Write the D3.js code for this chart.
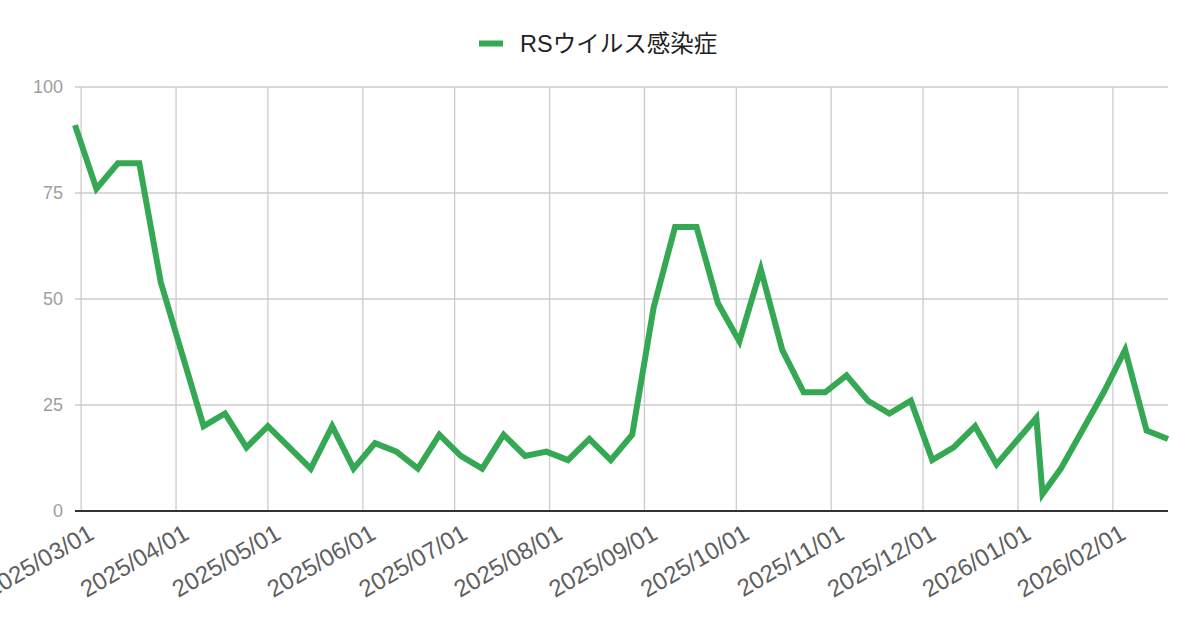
<!DOCTYPE html>
<html>
<head>
<meta charset="utf-8">
<script src="https://cdn.jsdelivr.net/npm/d3@7/dist/d3.min.js"></script>
<style>
  body { margin: 0; background: #ffffff; }
  svg { display: block; font-family: Arial, "Liberation Sans", "Noto Sans CJK JP", sans-serif; }
</style>
</head>
<body>
<svg id="chart" width="1200" height="626"></svg>
<script>
const series_name = "RSウイルス感染症";

// weekly report dates (the new year weeks are irregular)
const dates = [
  "2025/02/27", "2025/03/06", "2025/03/13", "2025/03/20", "2025/03/27",
  "2025/04/03", "2025/04/10", "2025/04/17", "2025/04/24", "2025/05/01",
  "2025/05/08", "2025/05/15", "2025/05/22", "2025/05/29", "2025/06/05",
  "2025/06/12", "2025/06/19", "2025/06/26", "2025/07/03", "2025/07/10",
  "2025/07/17", "2025/07/24", "2025/07/31", "2025/08/07", "2025/08/14",
  "2025/08/21", "2025/08/28", "2025/09/04", "2025/09/11", "2025/09/18",
  "2025/09/25", "2025/10/02", "2025/10/09", "2025/10/16", "2025/10/23",
  "2025/10/30", "2025/11/06", "2025/11/13", "2025/11/20", "2025/11/27",
  "2025/12/04", "2025/12/11", "2025/12/18", "2025/12/25", "2026/01/07",
  "2026/01/09", "2026/01/15", "2026/01/22", "2026/01/29", "2026/02/05",
  "2026/02/12", "2026/02/19"
];

const values = [
  91, 76, 82, 82, 54,
  37, 20, 23, 15, 20,
  15, 10, 20, 10, 16,
  14, 10, 18, 13, 10,
  18, 13, 14, 12, 17,
  12, 18, 48, 67, 67,
  49, 40, 57, 38, 28,
  28, 32, 26, 23, 26,
  12, 15, 20, 11, 22,
  4, 10, 19, 28, 38,
  19, 17
];

const y_ticks = [0, 25, 50, 75, 100];

const x_ticks = [
  "2025/03/01", "2025/04/01", "2025/05/01", "2025/06/01", "2025/07/01", "2025/08/01",
  "2025/09/01", "2025/10/01", "2025/11/01", "2025/12/01", "2026/01/01", "2026/02/01"
];

const parseDate = d3.timeParse("%Y/%m/%d");

const data = dates.map((d, i) => ({ date: parseDate(d), value: values[i] }));

const svg = d3.select("#chart");
const margin = { top: 87, right: 32, bottom: 115, left: 75 };
const width = +svg.attr("width") - margin.left - margin.right;
const height = +svg.attr("height") - margin.top - margin.bottom;
const g = svg.append("g").attr("transform", "translate(" + margin.left + "," + margin.top + ")");

const x = d3.scaleTime()
    .domain(d3.extent(data, d => d.date))
    .range([0, width]);

const y = d3.scaleLinear()
    .domain([0, 100])
    .range([height, 0]);

// horizontal grid
g.append("g")
  .selectAll("line")
  .data(y_ticks.filter(t => t > 0))
  .join("line")
    .attr("x1", 0)
    .attr("x2", width)
    .attr("y1", d => y(d))
    .attr("y2", d => y(d))
    .attr("stroke", "#cccccc")
    .attr("stroke-width", 1.3);

// vertical grid at month starts
g.append("g")
  .selectAll("line")
  .data(x_ticks)
  .join("line")
    .attr("x1", d => x(parseDate(d)))
    .attr("x2", d => x(parseDate(d)))
    .attr("y1", 0)
    .attr("y2", height)
    .attr("stroke", "#cccccc")
    .attr("stroke-width", 1.3);

// y labels
g.append("g")
  .selectAll("text")
  .data(y_ticks)
  .join("text")
    .attr("x", -12)
    .attr("y", d => y(d))
    .attr("dy", "0.35em")
    .attr("text-anchor", "end")
    .attr("fill", "#9e9e9e")
    .attr("font-size", 18)
    .text(d => d);

// slanted x labels
g.append("g")
  .selectAll("text")
  .data(x_ticks)
  .join("text")
    .attr("text-anchor", "end")
    .attr("fill", "#5f5f5f")
    .attr("font-size", 24)
    .attr("transform", d => "translate(" + (x(parseDate(d)) + 14.5) + "," + (height + 27) + ") rotate(-30)")
    .text(d => d);

// baseline
g.append("line")
  .attr("x1", 0)
  .attr("x2", width)
  .attr("y1", y(0))
  .attr("y2", y(0))
  .attr("stroke", "#333333")
  .attr("stroke-width", 2.2);

const line = d3.line()
    .x(d => x(d.date))
    .y(d => y(d.value));

g.append("path")
  .datum(data)
  .attr("fill", "none")
  .attr("stroke", "#34a853")
  .attr("stroke-width", 6)
  .attr("d", line);

// legend
const legend = svg.append("g").attr("transform", "translate(479,43.5)");
legend.append("rect")
  .attr("x", 0)
  .attr("y", -3)
  .attr("width", 24)
  .attr("height", 6)
  .attr("fill", "#34a853");
legend.append("text")
  .attr("x", 41)
  .attr("y", 0)
  .attr("dy", "0.35em")
  .attr("fill", "#222222")
  .attr("font-size", 23.5)
  .text(series_name);
</script>
</body>
</html>
